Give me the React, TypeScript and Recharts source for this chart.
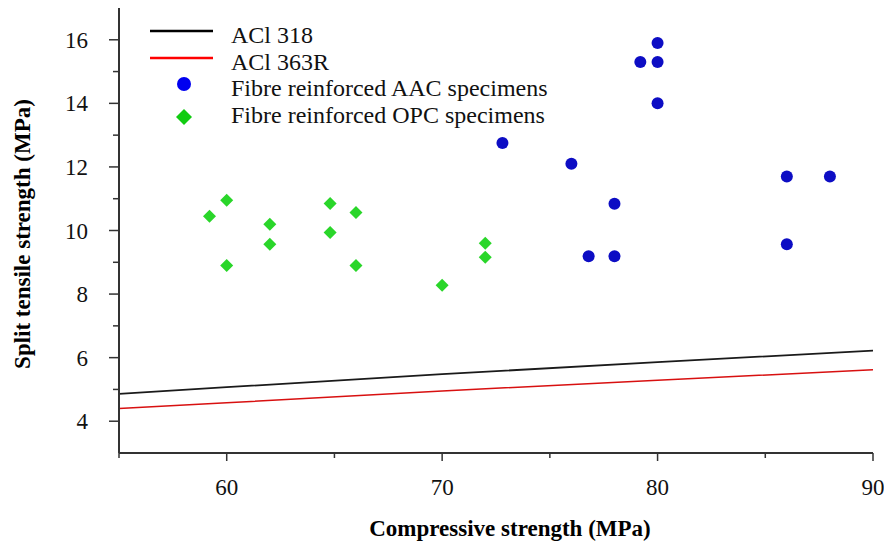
import {
  ComposedChart,
  Scatter,
  Line,
  XAxis,
  YAxis,
  Legend,
  Label,
} from "recharts";

// ACI code predictions
const aci318 = [
  { fc: 55, ft: 4.86 },
  { fc: 60, ft: 5.07 },
  { fc: 70, ft: 5.48 },
  { fc: 80, ft: 5.86 },
  { fc: 90, ft: 6.22 },
];
const aci363 = [
  { fc: 55, ft: 4.4 },
  { fc: 60, ft: 4.58 },
  { fc: 70, ft: 4.95 },
  { fc: 80, ft: 5.29 },
  { fc: 90, ft: 5.62 },
];

const aacFc = [80, 79.2, 80, 80, 72.8, 76, 78, 86, 88, 86, 76.8, 78];
const aacFt = [15.9, 15.3, 15.3, 14.0, 12.75, 12.1, 10.84, 11.7, 11.7, 9.57, 9.19, 9.19];

const opcFc = [60, 59.2, 62, 62, 60, 64.8, 66, 64.8, 66, 72, 72, 70];
const opcFt = [10.95, 10.45, 10.2, 9.57, 8.9, 10.85, 10.57, 9.94, 8.9, 9.6, 9.16, 8.28];

const xTicks = [55, 60, 65, 70, 75, 80, 85, 90];
const yTicks = [4, 5, 6, 7, 8, 9, 10, 11, 12, 13, 14, 15, 16];

const aac = aacFc.map((fc, i) => ({ fc, ft: aacFt[i] }));
const opc = opcFc.map((fc, i) => ({ fc, ft: opcFt[i] }));

const FONT = '"Liberation Serif", "Times New Roman", serif';
const AXIS = "#333";
const BLUE = "#0d0dc4";
const GREEN = "#2ad62a";

function XTick({ x, y, payload }: any) {
  const major = payload.value % 10 === 0;
  return (
    <g>
      <line x1={x} x2={x} y1={y} y2={y + (major ? 8 : 5)} stroke={AXIS} strokeWidth={1.5} />
      {major && (
        <text x={x} y={y + 42} textAnchor="middle" fontFamily={FONT} fontSize={23} fill="#111">
          {payload.value}
        </text>
      )}
    </g>
  );
}

function YTick({ x, y, payload }: any) {
  const major = payload.value % 2 === 0;
  return (
    <g>
      <line x1={x - (major ? 10 : 6)} x2={x} y1={y} y2={y} stroke={AXIS} strokeWidth={1.5} />
      {major && (
        <text x={x - 31} y={y + 8} textAnchor="end" fontFamily={FONT} fontSize={23} fill="#111">
          {payload.value}
        </text>
      )}
    </g>
  );
}

function Dot({ cx, cy }: any) {
  return <circle cx={cx} cy={cy} r={6} fill={BLUE} />;
}

function Diamond({ cx, cy }: any) {
  const h = 6.5;
  return (
    <polygon
      points={`${cx},${cy - h} ${cx + h},${cy} ${cx},${cy + h} ${cx - h},${cy}`}
      fill={GREEN}
    />
  );
}

function LegendBox() {
  const txt = { fontFamily: FONT, fontSize: 24, fill: "#111" };
  return (
    <svg width={470} height={120}>
      <line x1={10} x2={73} y1={17} y2={17} stroke="#000" strokeWidth={2.5} />
      <line x1={10} x2={73} y1={44} y2={44} stroke="#f00" strokeWidth={2.5} />
      <circle cx={44} cy={70} r={7} fill="#0000f0" />
      <polygon points="44,95 52,103 44,111 36,103" fill="#11cc11" />
      <text x={91} y={29} {...txt}>ACl 318</text>
      <text x={91} y={56} {...txt}>ACl 363R</text>
      <text x={91} y={82} {...txt}>Fibre reinforced AAC specimens</text>
      <text x={91} y={109} {...txt}>Fibre reinforced OPC specimens</text>
    </svg>
  );
}

export default function App() {
  return (
    <div style={{ width: 884, height: 548, background: "#fff" }}>
      <style>{"body{margin:0}"}</style>
      <ComposedChart
        width={884}
        height={548}
        margin={{ top: 8, right: 11, bottom: 0, left: 0 }}
      >
        <XAxis
          xAxisId={0}
          dataKey="fc"
          type="number"
          domain={[55, 90]}
          ticks={xTicks}
          interval={0}
          height={95}
          tickSize={0}
          tickMargin={0}
          tickLine={false}
          tick={<XTick />}
          axisLine={{ stroke: AXIS, strokeWidth: 2 }}
          allowDataOverflow
        >
          <Label
            content={() => (
              <text
                x={510}
                y={536}
                textAnchor="middle"
                fontFamily={FONT}
                fontSize={23}
                fontWeight="bold"
                fill="#000"
              >
                Compressive strength (MPa)
              </text>
            )}
          />
        </XAxis>
        <XAxis
          xAxisId="top"
          orientation="top"
          type="number"
          domain={[55, 90]}
          height={0}
          tick={false}
          tickLine={false}
          axisLine={{ stroke: AXIS, strokeWidth: 2 }}
        />
        <YAxis
          yAxisId={0}
          dataKey="ft"
          type="number"
          domain={[3, 17]}
          ticks={yTicks}
          interval={0}
          width={119}
          tickSize={0}
          tickMargin={0}
          tickLine={false}
          tick={<YTick />}
          axisLine={{ stroke: AXIS, strokeWidth: 2 }}
          allowDataOverflow
        >
          <Label
            content={() => (
              <text
                x={0}
                y={0}
                transform="translate(22,234) rotate(-90)"
                textAnchor="middle"
                dominantBaseline="central"
                fontFamily={FONT}
                fontSize={23}
                fontWeight="bold"
                fill="#000"
              >
                Split tensile strength (MPa)
              </text>
            )}
          />
        </YAxis>
        <YAxis
          yAxisId="right"
          orientation="right"
          type="number"
          domain={[3, 17]}
          width={0}
          tick={false}
          tickLine={false}
          axisLine={{ stroke: AXIS, strokeWidth: 2 }}
        />
        <Legend
          layout="vertical"
          align="center"
          verticalAlign="middle"
          wrapperStyle={{ left: 140, top: 14, width: 470, height: 120 }}
          content={() => <LegendBox />}
        />
        <Line
          data={aci318}
          dataKey="ft"
          type="linear"
          stroke="#1a1a1a"
          strokeWidth={1.8}
          dot={false}
          isAnimationActive={false}
        />
        <Line
          data={aci363}
          dataKey="ft"
          type="linear"
          stroke="#d81010"
          strokeWidth={1.5}
          dot={false}
          isAnimationActive={false}
        />
        <Scatter data={aac} dataKey="ft" shape={<Dot />} isAnimationActive={false} />
        <Scatter data={opc} dataKey="ft" shape={<Diamond />} isAnimationActive={false} />
      </ComposedChart>
    </div>
  );
}
